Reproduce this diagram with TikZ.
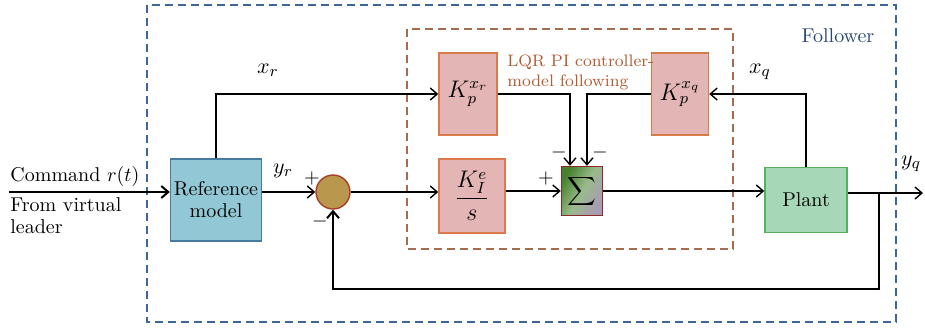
\documentclass[tikz,border=0pt]{standalone}
\definecolor{followBlue}{RGB}{62,102,152}
\definecolor{followText}{RGB}{40,72,112}
\definecolor{lqrBrown}{RGB}{165,108,80}
\definecolor{lqrText}{RGB}{176,92,52}
\definecolor{gainFill}{RGB}{227,181,181}
\definecolor{gainEdge}{RGB}{218,122,72}
\definecolor{refFill}{RGB}{146,200,214}
\definecolor{refEdge}{RGB}{72,122,162}
\definecolor{plantFill}{RGB}{166,216,184}
\definecolor{plantEdge}{RGB}{82,178,92}
\definecolor{sumFill}{RGB}{185,151,76}
\definecolor{sumEdge}{RGB}{168,62,42}
\definecolor{sigGreen}{RGB}{70,130,45}
\definecolor{sigGray}{RGB}{170,155,180}
\definecolor{sigEdge}{RGB}{140,42,42}
\usepackage{amsmath,amssymb}
\usepackage{tikz}
\usetikzlibrary{arrows.meta}

\begin{document}
\begin{tikzpicture}[x=0.5pt, y=-0.5pt,
    every node/.style={font=\fontsize{10}{11}\selectfont, align=center, inner sep=1pt},
    gain/.style={draw=gainEdge, fill=gainFill, line width=0.7pt, font=\fontsize{12}{13}\selectfont},
    lbl/.style={font=\fontsize{11}{12}\selectfont},
    sig/.style={-{Straight Barb[length=3.5pt,width=6pt]}, line width=0.7pt}
  ]
    \useasboundingbox (0,0) rectangle (925,328);
    % frames
    \draw[followBlue, line width=0.7pt, dash pattern=on 4pt off 2.5pt] (147,5) rectangle (896,322);
    \draw[lqrBrown, line width=0.8pt, dash pattern=on 4pt off 2.5pt] (407,29) rectangle (733,249);
    \node[text=followText] (fol) at (838,36) {Follower};
    % blocks
    \node[draw=refEdge, fill=refFill, line width=0.7pt, minimum width=45.5pt,
      minimum height=41pt] (ref) at (216,200) {Reference\\model};
    \node[draw=sumEdge, fill=sumFill, circle, line width=0.7pt, minimum size=17pt] (circ) at (333,192) {};
    \node[gain, minimum width=29pt, minimum height=41pt] (kxr) at (468,94) {$K_p^{x_r}$};
    \node[gain, minimum width=28.5pt, minimum height=41pt] (kxq) at (680,94) {$K_p^{x_q}$};
    \node[gain, minimum width=33pt, minimum height=37pt] (ki) at (472,196) {$\dfrac{K_I^e}{s}$};
    \node[draw=sigEdge, line width=0.7pt, left color=sigGreen, right color=sigGray,
      middle color=sigGreen!55!white, shading angle=60, minimum width=20.5pt,
      minimum height=24.5pt, inner sep=0pt] (sig) at (582,191) {$\displaystyle\sum$};
    \node[draw=plantEdge, fill=plantFill, line width=0.7pt, minimum width=41pt,
      minimum height=32.5pt] (plant) at (806,200) {Plant};
    \node[text=lqrText, align=left, anchor=west, font=\fontsize{8.3}{10}\selectfont] (lqr)
      at (505,72) {LQR PI controller-\\model following};
    % labels
    \node[anchor=west] (cmd) at (8,176) {Command $r(t)$};
    \node[anchor=north west, align=left] (lead) at (8,195) {From virtual\\leader};
    \node[lbl] (lxr) at (268,70) {$x_r$};
    \node[lbl] (lyr) at (283,171) {$y_r$};
    \node[lbl] (lxq) at (760,72) {$x_q$};
    \node[lbl] (lyq) at (911,164) {$y_q$};
    \node (p1) at (312,178) {$+$};
    \node (m1) at (320,221) {$-$};
    \node (p2) at (546,178) {$+$};
    \node (m2) at (559,152) {$-$};
    \node (m3) at (600,152) {$-$};
    % connectors
    \coordinate (in) at (9,192);
    \coordinate (out) at (923,193);
    \coordinate (br) at (879,193);
    \coordinate (fb) at (879,289);
    \draw[sig, line width=1pt] (in) -- (in -| ref.west);
    \draw[sig] (ref.east |- circ.west) -- (circ.west);
    \draw[sig] (circ.east) -- (circ.east -| ki.west);
    \draw[sig] (ki.east |- sig.west) -- (sig.west);
    \draw[sig] (sig.east) -- (sig.east -| plant.west);
    \draw[sig] (plant.east |- out) -- (out);
    \draw[sig, line width=1pt] (br) -- (fb) -| (circ.south);
    \draw[sig] (ref.north) |- (kxr.west);
    \draw[sig] (plant.north) |- (kxq.east);
    \draw[sig] (kxr.east) -| ([xshift=-6pt]sig.north);
    \draw[sig] (kxq.west) -| ([xshift=2.5pt]sig.north);
  \end{tikzpicture}
\end{document}
